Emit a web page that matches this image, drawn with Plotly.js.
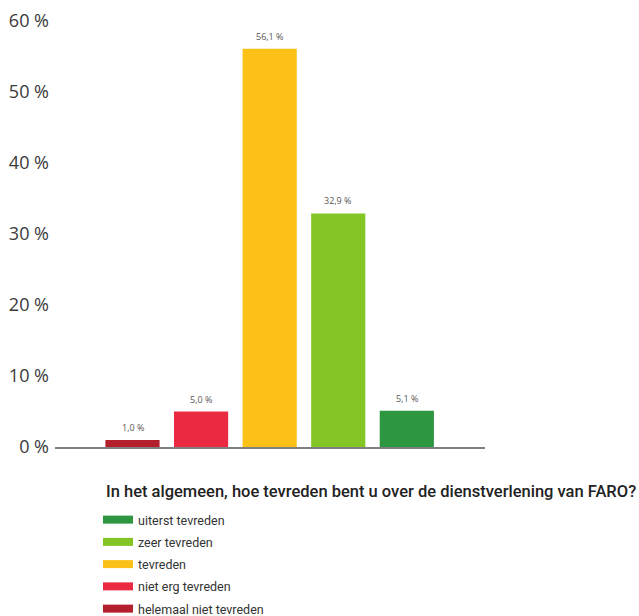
<!DOCTYPE html>
<html>
<head>
<meta charset="utf-8">
<script src="https://cdn.plot.ly/plotly-3.0.1.min.js"></script>
<style>
  html, body { margin: 0; padding: 0; background: #ffffff; }
  #chart { width: 639px; height: 616px; }
</style>
</head>
<body>
<div id="chart"></div>
<script>
// Bars left to right
const categories = ['helemaal niet tevreden', 'niet erg tevreden', 'tevreden', 'zeer tevreden', 'uiterst tevreden'];
const values = [1.0, 5.0, 56.1, 32.9, 5.1];
const barColors = ['#b31f2b', '#e92a40', '#fbc117', '#83c626', '#2c9640'];
// Legend order (top to bottom)
const legendOrder = [4, 3, 2, 1, 0];
const legendTitle = 'In het algemeen, hoe tevreden bent u over de dienstverlening van FARO?';
const tickValues = [0, 10, 20, 30, 40, 50, 60];

const labels = values.map(v => v.toFixed(1).replace('.', ',') + ' %');

const traces = [{
  type: 'bar',
  x: categories,
  y: values,
  marker: { color: barColors },
  showlegend: false,
  hoverinfo: 'skip'
}];

legendOrder.forEach(i => {
  traces.push({
    type: 'scatter',
    mode: 'lines',
    x: [categories[i]],
    y: [null],
    name: categories[i],
    legendgroup: 'g' + i,
    line: { color: barColors[i], width: 8 },
    showlegend: true,
    hoverinfo: 'skip'
  });
});

const annotations = categories.map((c, i) => ({
  x: c,
  y: values[i],
  xref: 'x',
  yref: 'y',
  text: labels[i],
  showarrow: false,
  yanchor: 'bottom',
  yshift: 4,
  font: { family: 'Open Sans, sans-serif', size: 9, color: '#555555' }
}));

annotations.push({
  xref: 'paper',
  yref: 'paper',
  x: (104 - 55) / 430,
  y: (447 - 491) / 426,
  xanchor: 'left',
  yanchor: 'middle',
  text: legendTitle,
  showarrow: false,
  font: { family: 'Roboto, sans-serif', size: 16.5, color: '#222222', weight: 500 }
});

const layout = {
  width: 639,
  height: 616,
  paper_bgcolor: '#ffffff',
  plot_bgcolor: '#ffffff',
  margin: { l: 55, r: 154, t: 21, b: 169 },
  barmode: 'overlay',
  bargap: 0.21,
  showlegend: true,
  xaxis: {
    type: 'category',
    range: [-1.13, 5.14],
    showticklabels: false,
    showgrid: false,
    zeroline: false,
    showline: true,
    linecolor: '#808080',
    linewidth: 1.5,
    ticks: '',
    fixedrange: true
  },
  yaxis: {
    range: [0, 60],
    tickvals: tickValues,
    ticktext: tickValues.map(v => v + ' %'),
    showgrid: false,
    zeroline: false,
    showline: false,
    ticks: '',
    ticklabelstandoff: 5,
    tickfont: { family: 'Open Sans, sans-serif', size: 18, color: '#3a3a3a' },
    fixedrange: true
  },
  legend: {
    xref: 'paper',
    yref: 'container',
    x: (98 - 55) / 430,
    y: 1 - 505 / 616,
    xanchor: 'left',
    yanchor: 'top',
    orientation: 'v',
    traceorder: 'grouped',
    tracegroupgap: 3,
    bgcolor: 'rgba(0,0,0,0)',
    borderwidth: 0,
    font: { family: 'Roboto, sans-serif', size: 12.5, color: '#333333' }
  },
  annotations: annotations
};

Plotly.newPlot('chart', traces, layout, { displayModeBar: false, staticPlot: true });
</script>
</body>
</html>
